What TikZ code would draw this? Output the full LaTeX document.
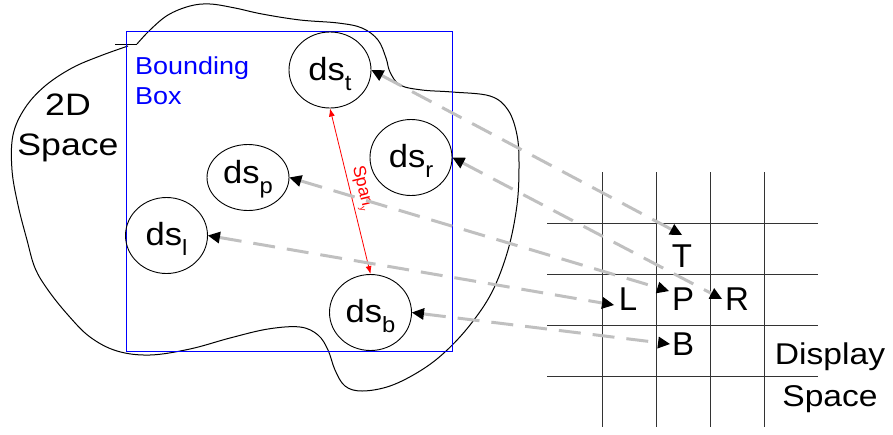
\documentclass[tikz,border=0pt]{standalone}
\usepackage{fontspec}
\usepackage{graphicx}
\setmainfont{Liberation Sans}
\usetikzlibrary{shapes.geometric,arrows.meta}
\definecolor{dashgray}{HTML}{C0C0C0}
\definecolor{purered}{HTML}{FF0000}
\definecolor{pureblue}{HTML}{0000FF}
\newcommand\sx[2][1.1]{\scalebox{#1}[1]{#2}}
\newcommand\dstext[1]{\sx[1.08]{ds}\raisebox{-10pt}{\fontsize{22}{22}\selectfont\sx[1.08]{#1}}}
\begin{document}
\begin{tikzpicture}[x=1pt,y=-1pt,
  dsnode/.style={draw, ellipse, inner sep=0pt, line width=0.9pt,
    minimum width=82pt, minimum height=76pt,
    font=\fontsize{32}{32}\selectfont, text height=24pt, text depth=4pt},
  gridline/.style={draw=black!80, line width=0.9pt},
  conn/.style={draw=dashgray, line width=3pt, dash pattern=on 22pt off 12pt,
    {Triangle[length=12pt,width=12pt,line width=0pt,black]}-{Triangle[length=12pt,width=12pt,line width=0pt,black]}},
  gridletter/.style={anchor=base, inner sep=0pt, font=\fontsize{33}{33}\selectfont},
  bigtext/.style={align=center, inner sep=0pt}
]
\useasboundingbox (0,0) rectangle (893,434);

% 2D space outline
\draw[line width=1pt] (115,44) -- (137,44);
\draw[line width=1pt] plot[smooth, tension=0.6] coordinates {
  (137,44) (150,30) (168,15) (190,6) (210,4) (235,8) (262,14) (300,20) (338,23)
  (362,28) (378,40) (386,58) (390,72) (400,85) (422,90) (452,92) (490,96)
  (508,110) (517,135) (519,165) (517,205) (508,250) (492,292) (470,325)
  (445,352) (420,371) (390,386) (362,391) (345,386) (335,370) (328,350)
  (318,335) (300,327) (268,329) (230,338) (190,349) (150,355) (117,351)
  (90,337) (68,315) (48,290) (35,268) (27,240) (18,205) (12,170) (13,135)
  (25,108) (45,86) (72,68) (100,56) (128,46)};

% bounding box
\draw[pureblue, line width=0.9pt] (126,31) rectangle (452,351);
\node[anchor=west, align=left, inner sep=0pt, text=pureblue,
  font=\fontsize{24.5}{30}\selectfont] (bbox) at (135,80.5) {\sx{Bounding}\\\sx{Box}};

\node[bigtext, font=\fontsize{31}{40}\selectfont] (space2d) at (68,127.5) {\sx[1.15]{2D}\\\sx[1.15]{Space}};

% ds nodes
\node[dsnode] (dst) at (330,70) {\dstext{t}};
\node[dsnode, minimum height=66pt, text height=15pt] (dsp) at (248,177.5) {\dstext{p}};
\node[dsnode] (dsr) at (411,157.5) {\dstext{r}};
\node[dsnode] (dsl) at (166.5,235.5) {\dstext{l}};
\node[dsnode] (dsb) at (370.5,312.5) {\dstext{b}};

% span arrow
\draw[purered, line width=0.8pt, {Latex[length=8pt,width=6pt]}-{Latex[length=8pt,width=6pt]}]
  (dst.south) -- (dsb.north)
  node[midway, sloped, above, inner sep=3pt, text=purered, font=\fontsize{17.5}{17.5}\selectfont]
  (spanlbl) {Span\raisebox{-3pt}{\fontsize{9}{9}\selectfont y}};

% display grid
\foreach \gx in {602,656,710,764} \draw[gridline] (\gx,172) -- (\gx,427);
\foreach \gy in {223,274,325,376} \draw[gridline] (547,\gy) -- (818,\gy);

\node[gridletter] (T) at (682,267) {T};
\node[gridletter] (P) at (683,310) {P};
\node[gridletter] (L) at (628,310) {L};
\node[gridletter] (R) at (737,310) {R};
\node[gridletter] (B) at (683,355) {B};

\node[bigtext, font=\fontsize{30}{42}\selectfont] (dspace) at (830,378) {\sx[1.12]{Display}\\\sx[1.12]{Space}};

% arrow ends at the grid
\coordinate (tT) at (682,235);
\coordinate (tR) at (722,299);
\coordinate (tP) at (669,291);
\coordinate (tL) at (614,305);
\coordinate (tB) at (670,344);

\draw[conn] (dst.east) -- (tT);
\draw[conn] (dsr.east) -- (tR);
\draw[conn] (dsp.east) -- (tP);
\draw[conn] (dsl.east) -- (tL);
\draw[conn] (dsb.east) -- (tB);
\end{tikzpicture}
\end{document}
